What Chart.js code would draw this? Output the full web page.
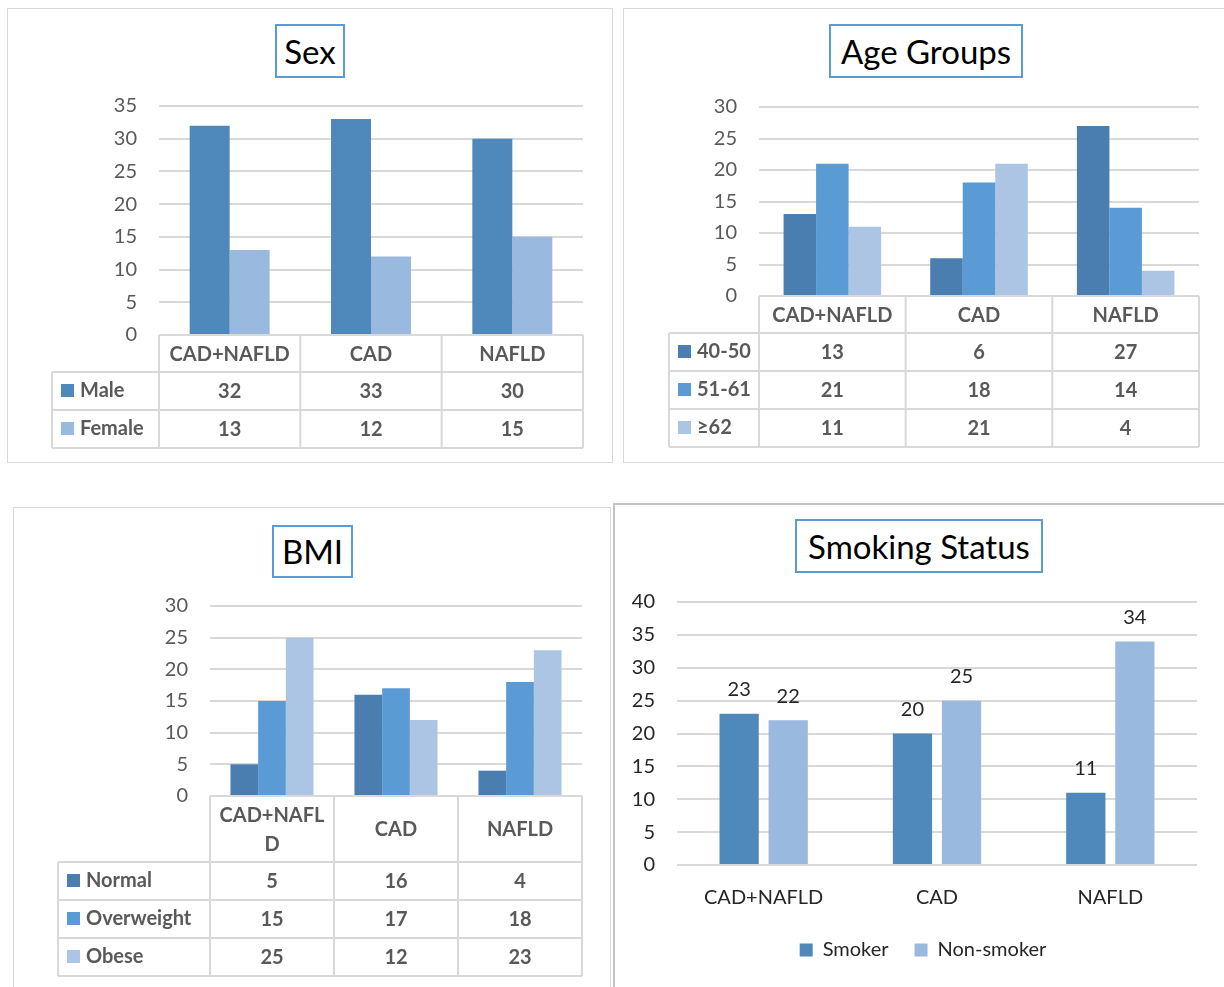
<!DOCTYPE html>
<html><head><meta charset="utf-8">
<script src="https://cdn.jsdelivr.net/npm/chart.js@4.4.0/dist/chart.umd.min.js"></script>
<style>
body{margin:0;background:#fff;width:1224px;height:987px;position:relative;overflow:hidden;font-family:Lato,sans-serif}
.panel{position:absolute;border:1.5px solid #d9d9d9;box-sizing:border-box;background:#fff}
.title{position:absolute;border:2px solid #5b9bd5;box-sizing:border-box;font:33px Lato;color:#000;text-align:center;background:#fff;white-space:nowrap}
.wrap{position:absolute}
</style></head><body>
<div class="panel" style="left:7px;top:8px;width:606px;height:455px"></div>
<div class="panel" style="left:623px;top:8px;width:610px;height:455px"></div>
<div class="panel" style="left:13px;top:507px;width:598px;height:490px"></div>
<div class="panel" style="left:613px;top:503px;width:620px;height:490px;border:2px solid #c4c4c4"></div>

<div class="wrap" style="left:7px;top:8px"><canvas id="c1" width="606" height="455"></canvas></div>
<div class="wrap" style="left:623px;top:8px"><canvas id="c2" width="601" height="455"></canvas></div>
<div class="wrap" style="left:13px;top:507px"><canvas id="c3" width="598" height="480"></canvas></div>
<div class="wrap" style="left:613px;top:503px"><canvas id="c4" width="640" height="484"></canvas></div>

<div class="title" style="left:275px;top:24px;width:70px;height:54px;line-height:50px">Sex</div>
<div class="title" style="left:829px;top:24px;width:194px;height:54px;line-height:50px">Age Groups</div>
<div class="title" style="left:272px;top:525px;width:81px;height:53px;line-height:49px">BMI</div>
<div class="title" style="left:795px;top:519px;width:248px;height:54px;line-height:50px">Smoking Status</div>

<script>
const categories = ['CAD+NAFLD', 'CAD', 'NAFLD'];
const sexLabels = ['Male', 'Female'];
const sexMale = [32, 33, 30];
const sexFemale = [13, 12, 15];
const ageLabels = ['40-50', '51-61', '≥62'];
const age40to50 = [13, 6, 27];
const age51to61 = [21, 18, 14];
const age62plus = [11, 21, 4];
const bmiLabels = ['Normal', 'Overweight', 'Obese'];
const bmiNormal = [5, 16, 4];
const bmiOverweight = [15, 17, 18];
const bmiObese = [25, 12, 23];
const smokeLabels = ['Smoker', 'Non-smoker'];
const smoker = [23, 20, 11];
const nonSmoker = [22, 25, 34];

const C_DARK = '#4f89bc', C_LIGHT = '#9ab9df';
const A1 = '#4a7eb0', A2 = '#5b9bd5', A3 = '#adc5e5';

function wrapText(ctx, text, maxW) {
  if (ctx.measureText(text).width <= maxW) return [text];
  const lines = []; let cur = '';
  for (const ch of text) {
    if (cur && ctx.measureText(cur + ch).width > maxW) { lines.push(cur); cur = ch; }
    else cur += ch;
  }
  if (cur) lines.push(cur);
  return lines;
}

const tablePlugin = {
  id: 'dataTable',
  afterDraw(chart, args, opts) {
    if (!opts || !opts.enabled) return;
    const ctx = chart.ctx, ca = chart.chartArea;
    const n = chart.data.labels.length, colW = (ca.right - ca.left) / n;
    const top = ca.bottom, hH = opts.headerH, rH = opts.rowH, left = opts.left;
    const nr = chart.data.datasets.length;
    const bottom = top + hH + nr * rH;
    ctx.save();
    ctx.strokeStyle = '#d9d9d9'; ctx.lineWidth = 2;
    ctx.beginPath();
    ctx.moveTo(ca.left, top); ctx.lineTo(ca.right, top);
    for (let r = 0; r <= nr; r++) { const y = top + hH + r * rH; ctx.moveTo(left, y); ctx.lineTo(ca.right, y); }
    for (let c = 0; c <= n; c++) { const x = ca.left + c * colW; ctx.moveTo(x, top); ctx.lineTo(x, bottom); }
    ctx.moveTo(left, top + hH); ctx.lineTo(left, bottom);
    ctx.stroke();
    ctx.font = 'bold 20px Lato'; ctx.textBaseline = 'middle'; ctx.fillStyle = '#595959'; ctx.textAlign = 'center';
    chart.data.labels.forEach((lab, i) => {
      const cx = ca.left + (i + 0.5) * colW;
      const lines = wrapText(ctx, lab, colW - 12);
      const lh = 29;
      lines.forEach((ln, k) => ctx.fillText(ln, cx, top + hH / 2 + (k - (lines.length - 1) / 2) * lh + 1));
    });
    chart.data.datasets.forEach((ds, r) => {
      const cy = top + hH + (r + 0.5) * rH;
      ctx.fillStyle = ds.backgroundColor; ctx.fillRect(left + 9, cy - 7, 13, 13);
      ctx.fillStyle = '#595959'; ctx.textAlign = 'left'; ctx.fillText(ds.label, left + 28, cy);
      ctx.textAlign = 'center';
      ds.data.forEach((v, i) => ctx.fillText(String(v), ca.left + (i + 0.5) * colW, cy + 1));
    });
    ctx.restore();
  }
};
Chart.register(tablePlugin);

function tableChart(id, labels, series, colors, yMax, yWidth, padding, catPct, table) {
  return new Chart(document.getElementById(id), {
    type: 'bar',
    data: {
      labels: categories,
      datasets: series.map((d, i) => ({ label: labels[i], data: d, backgroundColor: colors[i], borderWidth: 0, categoryPercentage: catPct, barPercentage: 1 }))
    },
    options: {
      responsive: false, animation: false,
      layout: { padding: padding },
      plugins: { legend: { display: false }, tooltip: { enabled: false }, dataTable: Object.assign({ enabled: true }, table) },
      scales: {
        x: { display: false },
        y: {
          min: 0, max: yMax,
          ticks: { stepSize: 5, color: '#595959', font: { family: 'Lato', size: 20 }, padding: 22 },
          grid: { color: '#d9d9d9', lineWidth: 2, drawTicks: false },
          border: { display: false },
          afterFit: s => { s.width = yWidth; }
        }
      }
    }
  });
}

tableChart('c1', sexLabels, [sexMale, sexFemale], [C_DARK, C_LIGHT], 35, 152,
  { top: 98, right: 30, bottom: 128, left: 0 }, 0.566, { headerH: 37, rowH: 38, left: 45 });
tableChart('c2', ageLabels, [age40to50, age51to61, age62plus], [A1, A2, A3], 30, 136,
  { top: 99, right: 25, bottom: 167, left: 0 }, 0.665, { headerH: 37, rowH: 38, left: 46 });
tableChart('c3', bmiLabels, [bmiNormal, bmiOverweight, bmiObese], [A1, A2, A3], 30, 197,
  { top: 99, right: 29, bottom: 191, left: 0 }, 0.67, { headerH: 66, rowH: 38, left: 45 });

const valueLabels = {
  id: 'valueLabels',
  afterDatasetsDraw(chart) {
    const ctx = chart.ctx;
    ctx.save();
    ctx.font = '20px Lato'; ctx.fillStyle = '#262626'; ctx.textAlign = 'center'; ctx.textBaseline = 'bottom';
    chart.data.datasets.forEach((ds, di) => {
      chart.getDatasetMeta(di).data.forEach((bar, i) => ctx.fillText(String(ds.data[i]), bar.x, bar.y - 14));
    });
    ctx.restore();
  }
};

new Chart(document.getElementById('c4'), {
  type: 'bar',
  data: {
    labels: categories,
    datasets: [
      { label: smokeLabels[0], data: smoker, backgroundColor: C_DARK, borderWidth: 0, categoryPercentage: 0.566, barPercentage: 0.8 },
      { label: smokeLabels[1], data: nonSmoker, backgroundColor: C_LIGHT, borderWidth: 0, categoryPercentage: 0.566, barPercentage: 0.8 }
    ]
  },
  options: {
    responsive: false, animation: false,
    layout: { padding: { top: 99, right: 20, bottom: 17, left: 0 } },
    plugins: {
      tooltip: { enabled: false },
      legend: {
        position: 'bottom',
        labels: { boxWidth: 13, boxHeight: 13, padding: 26, color: '#262626', font: { family: 'Lato', size: 20 } }
      }
    },
    scales: {
      x: {
        grid: { display: false }, border: { display: false },
        ticks: { color: '#262626', font: { family: 'Lato', size: 20 }, padding: 13 },
        afterFit: s => { s.height = 49; }
      },
      y: {
        min: 0, max: 40,
        ticks: { stepSize: 5, color: '#262626', font: { family: 'Lato', size: 20 }, padding: 22 },
        grid: { color: '#d9d9d9', lineWidth: 2, drawTicks: false },
        border: { display: false },
        afterFit: s => { s.width = 64; }
      },
      yRight: {
        position: 'right', min: 0, max: 40,
        ticks: { display: false }, grid: { display: false }, border: { display: false },
        afterFit: s => { s.width = 36; }
      }
    }
  },
  plugins: [valueLabels]
});
</script>
</body></html>
